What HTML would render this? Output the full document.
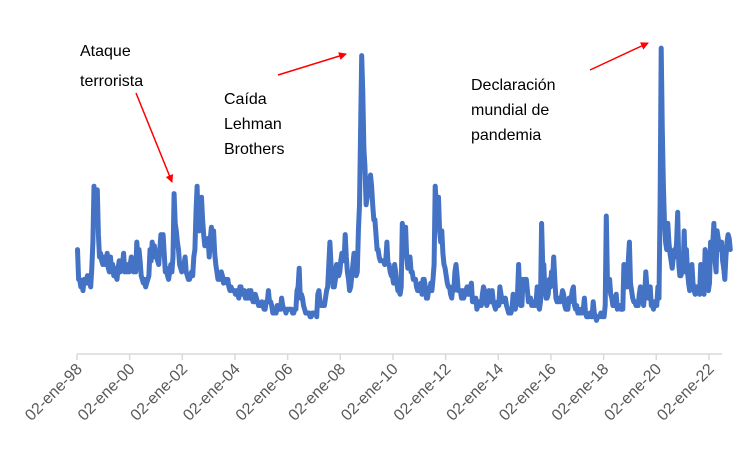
<!DOCTYPE html>
<html><head><meta charset="utf-8">
<style>
html,body{margin:0;padding:0;background:#fff;}
svg{display:block;}
.ann{font-family:"Liberation Sans",sans-serif;font-size:16px;fill:#000;}
.tick{font-family:"Liberation Sans",sans-serif;font-size:16px;fill:#595959;}
</style></head>
<body>
<svg id="chart" width="754" height="451" viewBox="0 0 754 451">
<defs><marker id="ah" markerWidth="8" markerHeight="8" refX="7" refY="4" orient="auto" markerUnits="userSpaceOnUse"><path d="M0,0 L8,4 L0,8 z" fill="#ff0000"/></marker></defs>
<g id="axis"></g>
<g id="series"></g>
<g>
<text class="ann" x="80" y="56">Ataque</text>
<text class="ann" x="80" y="86">terrorista</text>
<line x1="136" y1="93" x2="172" y2="182" stroke="#ff0000" stroke-width="1.5" marker-end="url(#ah)"/>
<text class="ann" x="224" y="104">Caída</text>
<text class="ann" x="224" y="129">Lehman</text>
<text class="ann" x="224" y="154">Brothers</text>
<line x1="278" y1="75" x2="346" y2="54" stroke="#ff0000" stroke-width="1.5" marker-end="url(#ah)"/>
<text class="ann" x="471" y="90">Declaración</text>
<text class="ann" x="471" y="115">mundial de</text>
<text class="ann" x="471" y="140">pandemia</text>
<line x1="590" y1="70" x2="648" y2="43" stroke="#ff0000" stroke-width="1.5" marker-end="url(#ah)"/>
</g>
</svg>
<script>
const startYear = 1998;
const tickYears = [1998,2000,2002,2004,2006,2008,2010,2012,2014,2016,2018,2020,2022];
const tickLabels = ["02-ene-98","02-ene-00","02-ene-02","02-ene-04","02-ene-06","02-ene-08","02-ene-10","02-ene-12","02-ene-14","02-ene-16","02-ene-18","02-ene-20","02-ene-22"];
// half-monthly volatility values, Jan 1998 onward
const values = [
28,20,20,18,19,17,20,19,19,21,21,19,18,23,30,45,40,38,44,32,26,27,25,24,
26,24,25,27,23,22,26,22,24,21,23,21,20,23,25,22,25,24,27,22,23,22,24,22,
24,26,24,22,24,22,30,26,28,25,21,20,19,20,18,19,20,21,28,25,30,26,29,27,
26,25,24,28,32,30,32,27,22,23,21,20,22,24,22,26,43,35,33,30,28,24,23,22,
23,24,26,22,21,20,20,21,22,21,26,28,38,45,34,33,38,42,36,32,29,30,30,31,
26,31,34,30,33,27,24,22,20,21,20,22,21,19,20,20,19,20,18,17,18,17,17,17,
16,17,16,15,18,18,16,17,17,15,15,15,17,15,17,15,14,14,16,15,14,13,13,13,
14,13,12,12,14,14,17,14,14,13,11,12,11,11,13,12,12,12,15,13,12,12,11,12,
12,12,12,12,11,11,12,12,17,18,23,15,16,15,13,12,11,11,11,11,10,10,11,11,
11,11,10,16,17,14,13,13,13,13,15,17,18,24,30,24,22,18,18,20,24,23,21,22,
25,27,26,25,32,26,22,20,17,18,21,24,27,22,21,22,33,40,60,80,70,55,50,40,
42,45,46,48,45,40,36,36,32,28,28,26,25,25,25,25,24,25,30,24,24,22,21,21,
19,24,22,19,17,17,16,18,35,32,31,34,26,23,24,26,22,22,20,20,20,18,17,17,
17,19,16,20,20,18,15,15,17,17,19,17,20,24,45,40,38,42,33,30,33,27,24,23,
21,19,18,18,16,15,18,17,22,24,21,17,17,17,15,17,15,16,17,18,16,16,18,19,
14,14,14,15,12,13,14,13,13,16,18,17,14,13,14,17,15,14,17,14,13,12,13,14,
13,18,16,14,15,14,15,13,12,11,11,11,12,16,13,12,14,16,24,16,13,13,20,19,
20,20,17,14,15,15,13,14,13,13,14,18,13,12,14,35,24,24,17,15,15,16,20,18,
22,20,26,20,15,14,14,15,14,15,17,16,13,12,12,12,15,14,15,17,18,13,12,13,
11,11,11,12,11,12,15,11,10,10,10,11,10,10,14,11,10,9,10,10,10,11,10,11,
10,13,37,20,17,20,16,15,13,13,13,16,12,13,13,12,12,12,24,21,18,18,25,30,
19,17,15,14,14,13,13,13,16,18,15,15,13,16,22,18,15,16,18,13,13,12,14,13,
13,18,15,40,82,60,45,35,30,28,35,30,27,25,23,26,28,26,30,38,24,21,21,22,
23,33,22,28,22,19,17,18,24,19,17,16,18,18,17,16,24,22,17,16,28,26,22,17,
19,30,27,30,35,25,22,33,31,29,28,30,25,23,20,26,30,32,31,28
];
const NS="http://www.w3.org/2000/svg";
function xScale(t){ return 77 + (t - startYear) * 26.33; }
function yScale(v){ return 354 - 3.73 * v; }
const axis=document.getElementById('axis');
const base=document.createElementNS(NS,'line');
base.setAttribute('x1',77);base.setAttribute('x2',722);base.setAttribute('y1',354);base.setAttribute('y2',354);
base.setAttribute('stroke','#d9d9d9');base.setAttribute('stroke-width','1.5');


axis.appendChild(base);
tickYears.forEach((yr,i)=>{
  const x=xScale(yr);
  const tk=document.createElementNS(NS,'line');
  tk.setAttribute('x1',x);tk.setAttribute('x2',x);tk.setAttribute('y1',354);tk.setAttribute('y2',360);
  tk.setAttribute('stroke','#d9d9d9');tk.setAttribute('stroke-width','1.5');
  
  
  axis.appendChild(tk);
  const tx=document.createElementNS(NS,'text');
  tx.setAttribute('class','tick');
  tx.setAttribute('text-anchor','end');
  tx.setAttribute('transform','translate('+(x+6)+',370) rotate(-45)');
  tx.textContent=tickLabels[i];
  
  
  axis.appendChild(tx);
});
const pts=values.map((v,i)=>xScale(startYear+(i+0.5)/24).toFixed(1)+','+yScale(v).toFixed(1)).join(' ');
const pl=document.createElementNS(NS,'polyline');
pl.setAttribute('points',pts);
pl.setAttribute('fill','none');pl.setAttribute('stroke','#4472c4');
pl.setAttribute('stroke-width','5');pl.setAttribute('stroke-linejoin','round');pl.setAttribute('stroke-linecap','round');


document.getElementById('series').appendChild(pl);
</script>
</body></html>
